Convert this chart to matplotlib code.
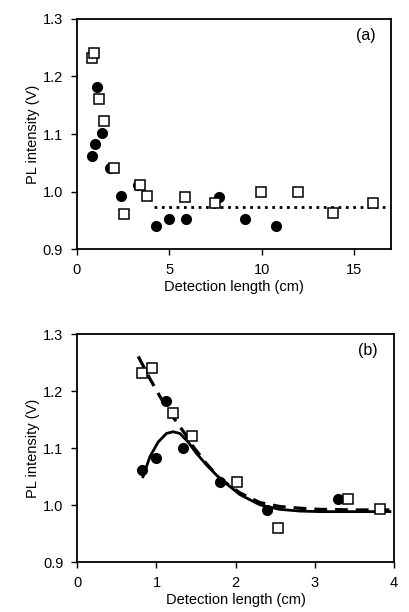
import matplotlib
matplotlib.use("Agg")
import matplotlib.pyplot as plt

plt.rcParams['font.family'] = ['Liberation Sans', 'DejaVu Sans']
plt.rcParams['font.size'] = 10.5

# measured points: filled circles and open squares
circ_x = [0.82, 0.99, 1.115, 1.34, 1.80, 2.40, 3.30, 4.27, 4.97, 5.93, 7.68, 9.11, 10.77]
circ_y = [1.062, 1.083, 1.182, 1.101, 1.041, 0.992, 1.011, 0.940, 0.952, 0.952, 0.990, 0.952, 0.940]
sq_x = [0.82, 0.94, 1.207, 1.451, 2.015, 2.54, 3.415, 3.82, 5.86, 7.45, 9.96, 11.96, 13.84, 16.03]
sq_y = [1.232, 1.241, 1.161, 1.122, 1.041, 0.961, 1.011, 0.993, 0.990, 0.980, 1.000, 1.000, 0.962, 0.980]

# dotted average level in (a)
avg_x = [4.19, 17.0]
avg_y = [0.9727, 0.9727]

# fitted curves in (b)
fit_solid_x = [0.83, 0.917, 1.022, 1.127, 1.21, 1.296, 1.40, 1.506, 1.632, 1.758, 1.884, 2.053, 2.305, 2.558, 2.81, 3.06, 3.5, 3.95]
fit_solid_y = [1.050, 1.085, 1.111, 1.126, 1.129, 1.126, 1.111, 1.091, 1.071, 1.053, 1.038, 1.019, 1.001, 0.993, 0.990, 0.989, 0.989, 0.989]
fit_dash_x = [0.77, 0.917, 1.085, 1.254, 1.358, 1.464, 1.632, 1.80, 2.053, 2.305, 2.558, 2.81, 3.06, 3.5, 4.0]
fit_dash_y = [1.261, 1.222, 1.181, 1.146, 1.126, 1.103, 1.073, 1.047, 1.022, 1.005, 0.998, 0.995, 0.993, 0.992, 0.992]

fig = plt.figure(figsize=(4.09, 6.12), dpi=100)
ax1 = fig.add_axes([0.188, 0.593, 0.768, 0.376])
ax2 = fig.add_axes([0.189, 0.081, 0.774, 0.373])


def style(ax):
    for s in ax.spines.values():
        s.set_linewidth(1.3)
    ax.tick_params(direction='out', length=4, width=1, pad=6)
    ax.set_ylim(0.9, 1.3)
    ax.set_yticks([0.9, 1.0, 1.1, 1.2, 1.3])
    ax.set_yticklabels(['0.9', '1.0', '1.1', '1.2', '1.3'])
    ax.set_xlabel('Detection length (cm)', labelpad=2)
    ax.set_ylabel('PL intensity (V)', labelpad=2)


ax1.plot(avg_x, avg_y, color='black', linestyle=':', linewidth=2)
ax1.plot(circ_x, circ_y, 'o', ms=7, color='black')
ax1.plot(sq_x, sq_y, 's', ms=6.5, mfc='white', mec='black', mew=1.1)
ax1.set_xlim(0, 17)
ax1.set_xticks([0, 5, 10, 15])
style(ax1)
ax1.text(0.95, 0.93, '(a)', transform=ax1.transAxes, ha='right', va='center', fontsize=11.5)

ax2.plot(fit_dash_x, fit_dash_y, color='black', linestyle=(0, (4, 2.5)), linewidth=2.3)
ax2.plot(fit_solid_x, fit_solid_y, color='black', linewidth=2)
ax2.plot(circ_x, circ_y, 'o', ms=7, color='black')
ax2.plot(sq_x, sq_y, 's', ms=6.5, mfc='white', mec='black', mew=1.1)
ax2.set_xlim(0, 4)
ax2.set_xticks([0, 1, 2, 3, 4])
style(ax2)
ax2.text(0.95, 0.93, '(b)', transform=ax2.transAxes, ha='right', va='center', fontsize=11.5)

fig.savefig('out.png', dpi=100)
